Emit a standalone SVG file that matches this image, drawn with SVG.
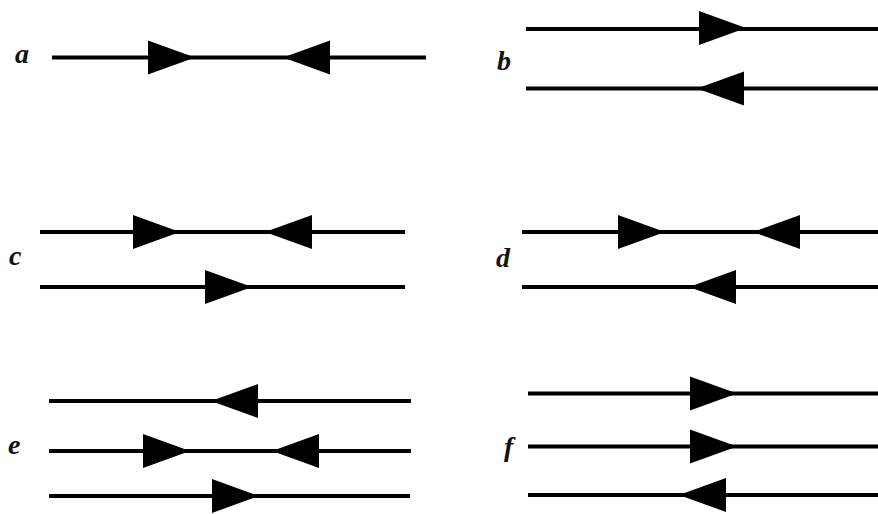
<svg xmlns="http://www.w3.org/2000/svg" width="878" height="514" viewBox="0 0 878 514">
<style>
.ln{stroke:#000;stroke-width:4;fill:none}
.lb{font-family:"Liberation Serif","Times New Roman",serif;font-style:italic;font-weight:bold;font-size:28px;fill:#111}
</style>
<defs>
<polygon id="ar" points="0,-17 47,0 0,17" fill="#000"/>
<polygon id="al" points="0,0 47,-17 47,17" fill="#000"/>
</defs>
<rect width="878" height="514" fill="#fff"/>
<g id="labels">
<text class="lb" x="15" y="63">a</text>
<text class="lb" x="497" y="70">b</text>
<text class="lb" x="9" y="265">c</text>
<text class="lb" x="496" y="267">d</text>
<text class="lb" x="8" y="454">e</text>
<text class="lb" x="504" y="456">f</text>
</g>
<g id="connectors">
<g id="panel-a">
<line class="ln" x1="52" y1="57.5" x2="426" y2="57.5"/>
<use href="#ar" x="148" y="57.5"/>
<use href="#al" x="283" y="57.5"/>
</g>
<g id="panel-b">
<line class="ln" x1="526" y1="29" x2="878" y2="29"/>
<use href="#ar" x="699" y="28"/>
<line class="ln" x1="526" y1="88.5" x2="878" y2="88.5"/>
<use href="#al" x="697" y="88.5"/>
</g>
<g id="panel-c">
<line class="ln" x1="40" y1="232" x2="405" y2="232"/>
<use href="#ar" x="133" y="232"/>
<use href="#al" x="265" y="232"/>
<line class="ln" x1="40" y1="287" x2="405" y2="287"/>
<use href="#ar" x="205" y="287"/>
</g>
<g id="panel-d">
<line class="ln" x1="522" y1="232" x2="878" y2="232"/>
<use href="#ar" x="618" y="232"/>
<use href="#al" x="753" y="232"/>
<line class="ln" x1="522" y1="287" x2="878" y2="287"/>
<use href="#al" x="689" y="287"/>
</g>
<g id="panel-e">
<line class="ln" x1="49" y1="401" x2="411" y2="401"/>
<use href="#al" x="211" y="401"/>
<line class="ln" x1="49" y1="451" x2="411" y2="451"/>
<use href="#ar" x="143" y="451"/>
<use href="#al" x="272" y="451"/>
<line class="ln" x1="49" y1="496" x2="410" y2="496"/>
<use href="#ar" x="212" y="496"/>
</g>
<g id="panel-f">
<line class="ln" x1="528" y1="393.5" x2="878" y2="393.5"/>
<use href="#ar" x="690" y="393.5"/>
<line class="ln" x1="528" y1="446.5" x2="878" y2="446.5"/>
<use href="#ar" x="690" y="446.5"/>
<line class="ln" x1="528" y1="495" x2="878" y2="495"/>
<use href="#al" x="679" y="495"/>
</g>
</g>
</svg>
